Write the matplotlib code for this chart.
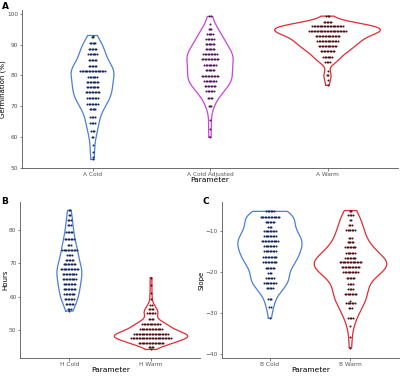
import matplotlib
matplotlib.use('Agg')
import matplotlib.pyplot as plt
import numpy as np

# ---- data: row value / number of dots in that row ----
a_cold_vals = [93.0, 92.4, 90.5, 88.7, 86.9, 85.0, 83.2, 81.5, 79.6, 77.8, 76.1, 74.5,
               72.6, 70.8, 69.0, 66.4, 64.6, 62.0, 60.1, 57.3, 55.2, 53.6, 52.7]
a_cold_counts = [1, 2, 5, 6, 7, 6, 6, 18, 7, 9, 9, 10, 8, 8, 5, 4, 4, 3, 2, 1, 1, 1, 1]

a_adj_vals = [99.2, 96.7, 95.2, 93.6, 92.0, 90.1, 88.5, 86.9, 85.3, 83.3, 81.7, 79.9,
              78.2, 76.5, 74.9, 72.6, 70.1, 65.5, 62.5, 60.0]
a_adj_counts = [2, 1, 3, 5, 6, 7, 7, 10, 12, 9, 7, 12, 9, 8, 6, 4, 3, 1, 1, 1]

a_warm_vals = [99.3, 97.3, 96.1, 94.5, 92.9, 91.3, 89.6, 87.9, 86.0, 84.3, 81.5, 80.0,
               78.5, 76.8]
a_warm_counts = [3, 6, 22, 26, 17, 15, 13, 10, 7, 4, 1, 2, 1, 1]

h_cold_vals = [85.8, 84.4, 82.9, 81.5, 79.3, 77.1, 75.5, 73.9, 72.5, 71.1, 69.8, 68.2,
               66.8, 65.3, 63.7, 62.2, 60.7, 59.2, 57.7, 56.4, 55.7]
h_cold_counts = [2, 2, 3, 3, 5, 7, 3, 11, 4, 6, 9, 13, 10, 10, 9, 9, 8, 7, 6, 3, 1]

h_warm_vals = [65.7, 63.5, 61.1, 59.4, 57.5, 56.3, 55.0, 53.3, 51.8, 50.3, 48.9, 47.7,
               46.2, 44.8, 44.2]
h_warm_counts = [1, 1, 1, 1, 2, 4, 6, 4, 13, 16, 24, 28, 18, 4, 1]

b_cold_vals = [-5.2, -6.5, -7.7, -9.0, -10.1, -11.3, -12.5, -13.7, -14.8, -16.3, -17.5,
               -19.0, -20.2, -21.5, -22.6, -24.0, -26.5, -28.5, -31.3]
b_cold_counts = [6, 14, 7, 3, 9, 9, 12, 9, 9, 10, 10, 7, 3, 6, 9, 5, 3, 2, 1]

b_warm_vals = [-5.0, -6.2, -7.4, -8.5, -9.8, -11.6, -12.6, -13.8, -15.3, -16.6, -17.6,
               -18.8, -20.1, -21.5, -23.0, -24.1, -25.3, -27.0, -27.7, -28.9, -31.3,
               -33.1, -35.8, -38.5]
b_warm_counts = [2, 4, 2, 3, 7, 3, 5, 8, 7, 8, 16, 13, 11, 6, 4, 4, 9, 1, 7, 3, 4, 1, 1, 1]

blue, purple, red = '#4a7fdc', '#c845d8', '#e32a32'
dblue, dpurple, dred = '#16275a', '#50165e', '#520f14'


def kde(sample, grid):
    # gaussian kernel, bw.nrd0 like R
    n = len(sample)
    sd = np.std(sample, ddof=1)
    q75, q25 = np.percentile(sample, [75, 25])
    bw = 0.9 * min(sd, (q75 - q25) / 1.34) * n ** -0.2
    z = (grid[:, None] - sample[None, :]) / bw
    return np.exp(-0.5 * z ** 2).sum(axis=1) / (n * bw * np.sqrt(2 * np.pi))


def panel(ax, groups, labels, ylim, yticks, ylabel, px_per_unit):
    dens = []
    for vals, counts, _, _ in groups:
        s = np.repeat(vals, counts).astype(float)
        g = np.linspace(s.min(), s.max(), 512)
        dens.append((g, kde(s, g)))
    dmax = max(d.max() for _, d in dens)
    spacing = 1.45 / px_per_unit
    for i, ((vals, counts, lc, dc), (g, d)) in enumerate(zip(groups, dens)):
        x0 = i + 1
        hw = d / dmax * 0.45
        ax.plot(np.r_[x0 - hw, (x0 + hw)[::-1], x0 - hw[0]],
                np.r_[g, g[::-1], g[0]], color=lc, lw=0.9)
        for v, c in zip(vals, counts):
            xs = x0 + (np.arange(c) - (c - 1) / 2) * spacing
            ax.plot(xs, np.full(c, v), 'o', ms=1.45, mew=0, color=dc)
    ax.set_xlim(0.4, len(groups) + 0.6)
    ax.set_ylim(*ylim)
    ax.set_xticks(range(1, len(groups) + 1))
    ax.set_xticklabels(labels)
    ax.set_yticks(yticks)
    for sp in ['top', 'right']:
        ax.spines[sp].set_visible(False)
    for sp in ['left', 'bottom']:
        ax.spines[sp].set_color('#555555')
        ax.spines[sp].set_linewidth(0.6)
    ax.tick_params(labelsize=4.2, colors='#555555', length=1.8, width=0.5, pad=1.0)
    ax.set_xlabel('Parameter', fontsize=5.4, labelpad=0.3)
    ax.set_ylabel(ylabel, fontsize=5.0, labelpad=0.8)


fig = plt.figure(figsize=(4, 3.77), dpi=100)
axA = fig.add_axes([0.055, 0.555, 0.94, 0.4185])
axB = fig.add_axes([0.051, 0.05, 0.449, 0.415])
axC = fig.add_axes([0.554, 0.05, 0.443, 0.415])

panel(axA, [(a_cold_vals, a_cold_counts, blue, dblue),
            (a_adj_vals, a_adj_counts, purple, dpurple),
            (a_warm_vals, a_warm_counts, red, dred)],
      ['A Cold', 'A Cold Adjusted', 'A Warm'], (50.0, 101.3),
      [50, 60, 70, 80, 90, 100], 'Germination (%)', 117.5)
panel(axB, [(h_cold_vals, h_cold_counts, blue, dblue),
            (h_warm_vals, h_warm_counts, red, dred)],
      ['H Cold', 'H Warm'], (41.6, 88.4), [50, 60, 70, 80], 'Hours', 81.7)
panel(axC, [(b_cold_vals, b_cold_counts, blue, dblue),
            (b_warm_vals, b_warm_counts, red, dred)],
      ['B Cold', 'B Warm'], (-41.05, -2.84), [-40, -30, -20, -10], 'Slope', 81.7)

fig.text(0.004, 0.995, 'A', fontsize=6.5, fontweight='bold', va='top')
fig.text(0.004, 0.478, 'B', fontsize=6.5, fontweight='bold', va='top')
fig.text(0.507, 0.478, 'C', fontsize=6.5, fontweight='bold', va='top')

fig.savefig('out.png', dpi=100)
